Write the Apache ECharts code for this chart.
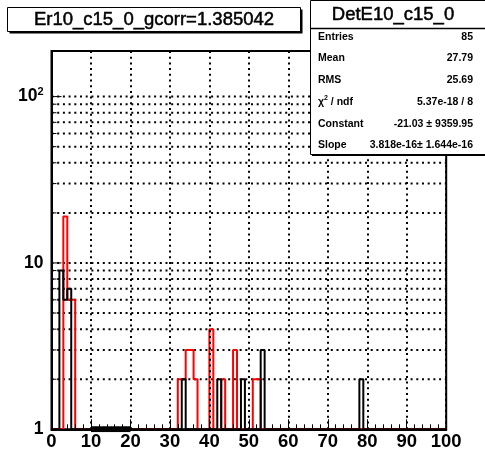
<!DOCTYPE html>
<html>
<head>
<meta charset="utf-8">
<script src="https://cdn.jsdelivr.net/npm/echarts@6/dist/echarts.min.js"></script>
<style>
    html, body { margin: 0; padding: 0; background: #fff; }
    #main { width: 485px; height: 455px; }
</style>
</head>
<body>
<div id="main"></div>
<script>
// histogram binning (width 1 over 0..100) and axis range
var xMin = 0, xMax = 100, binWidth = 1;
var yMin = 1, yMax = 188;

// black histogram (DetE10_c15_0), non-empty bins: low edge -> content
var blackBins = [2, 3, 4, 33, 42, 48, 53, 78];
var blackValues = [9, 6, 7, 2, 2, 2, 3, 2];

// red histogram, non-empty bins
var redBins = [3, 4, 5, 32, 33, 34, 35, 36, 40, 43, 46, 51, 52];
var redValues = [19, 6, 6, 2, 2, 3, 3, 2, 4, 2, 3, 2, 2];

// pol1 fit over 10..20 (negative, so clipped to the bottom of the frame)
var fitX = [10, 20];
var fitY = [-21.03, -21.03];

// log grid lines (ROOT draws one at every tick)
var yGridValues = [2, 3, 4, 5, 6, 7, 8, 9, 10, 20, 30, 40, 50, 60, 70, 80, 90, 100];
var yMajor = [10, 100];

var titleText = 'Er10_c15_0_gcorr=1.385042';
var statsTitle = 'DetE10_c15_0';
var statLabels = ['Entries', 'Mean', 'RMS', 'chi2', 'Constant', 'Slope'];
var statValues = ['85', '27.79', '25.69', '5.37e-18 / 8', '-21.03 \u00b1 9359.95', '3.818e-16\u00b1 1.644e-16'];

var FONT = '"Liberation Sans", Arial, Helvetica, sans-serif';

// turn sparse bins into a step outline, empty bins sit on the frame bottom
function histOutline(bins, values) {
    var counts = [];
    var n = Math.round((xMax - xMin) / binWidth);
    for (var i = 0; i < n; i++) counts.push(0);
    for (var j = 0; j < bins.length; j++) counts[Math.round((bins[j] - xMin) / binWidth)] = values[j];
    var pts = [];
    for (var k = 0; k < n; k++) {
        var v = counts[k] > 0 ? counts[k] : yMin;
        pts.push([xMin + k * binWidth, v], [xMin + (k + 1) * binWidth, v]);
    }
    return pts;
}

var chart = echarts.init(document.getElementById('main'));

// stats box texts
var statsChildren = [];
var rowY = [37, 58.5, 80, 102, 124, 145.5];
for (var r = 0; r < statLabels.length; r++) {
    var lab = statLabels[r];
    statsChildren.push({
        type: 'text', x: 318, y: rowY[r], z: 101,
        style: lab === 'chi2' ? {
            text: '{c|\u03c7}{s|2}{c| / ndf}',
            rich: {
                c: {fontSize: 10.5, fontWeight: 'bold', fontFamily: FONT, fill: '#000', lineHeight: 14},
                s: {fontSize: 7, fontWeight: 'bold', fontFamily: FONT, fill: '#000', verticalAlign: 'top', lineHeight: 8}
            },
            verticalAlign: 'middle'
        } : {
            text: lab, fontSize: 10.5, fontWeight: 'bold', fontFamily: FONT, fill: '#000', verticalAlign: 'middle'
        }
    });
    statsChildren.push({
        type: 'text', x: 473, y: rowY[r], z: 101,
        style: {text: statValues[r], fontSize: 10.5, fontWeight: 'bold', fontFamily: FONT, fill: '#000',
            align: 'right', verticalAlign: 'middle'}
    });
}

var option = {
    animation: false,
    backgroundColor: '#fff',
    grid: {
        left: 51.5,
        right: 38.8,
        top: 51,
        bottom: 25.7,
        show: true,
        borderColor: '#000',
        borderWidth: 2,
        backgroundColor: 'transparent'
    },
    xAxis: {
        type: 'value',
        min: xMin,
        max: xMax,
        interval: 10,
        z: 5,
        axisLine: {show: true, lineStyle: {color: '#000', width: 2}},
        axisTick: {show: true, inside: true, length: 10, lineStyle: {color: '#000', width: 1}},
        minorTick: {show: true, splitNumber: 5, length: 5, lineStyle: {color: '#000', width: 1}},
        splitLine: {show: true, lineStyle: {color: '#000', width: 2, type: [2, 3.7]}},
        axisLabel: {color: '#000', fontSize: 18.5, fontWeight: 'bold', fontFamily: FONT, margin: 3}
    },
    yAxis: {
        type: 'log',
        logBase: 10,
        min: yMin,
        max: yMax,
        z: 5,
        axisLine: {show: true, lineStyle: {color: '#000', width: 2}},
        axisTick: {show: false},
        splitLine: {show: false},
        axisLabel: {
            color: '#000', fontSize: 17, fontWeight: 'bold', fontFamily: FONT, margin: 8,
            formatter: function (v) {
                if (Math.abs(v - 1) < 1e-9) return '{b|1}';
                if (Math.abs(v - 10) < 1e-9) return '{b|10}';
                if (Math.abs(v - 100) < 1e-6) return '{b|10}{s|2}';
                return '';
            },
            rich: {
                b: {fontSize: 17.5, fontWeight: 'bold', fontFamily: FONT, color: '#000', lineHeight: 20},
                s: {fontSize: 11, fontWeight: 'bold', fontFamily: FONT, color: '#000', verticalAlign: 'top', lineHeight: 11}
            }
        }
    },
    series: [
        {
            // dotted log grid + left ticks
            name: 'grid',
            type: 'custom',
            silent: true,
            z: 1,
            data: yGridValues.map(function (v) { return [xMin, v]; }),
            renderItem: function (params, api) {
                var v = api.value(1);
                var p0 = api.coord([xMin, v]);
                var p1 = api.coord([xMax, v]);
                var tick = yMajor.indexOf(v) >= 0 ? 10 : 5;
                return {
                    type: 'group',
                    children: [
                        {type: 'line', shape: {x1: p0[0], y1: p0[1], x2: p1[0], y2: p1[1]},
                            style: {stroke: '#000', lineWidth: 2, lineDash: [2, 3.7]}},
                        {type: 'line', shape: {x1: p0[0], y1: p0[1], x2: p0[0] + tick, y2: p0[1]},
                            style: {stroke: '#000', lineWidth: 1}}
                    ]
                };
            }
        },
        {
            name: 'red',
            type: 'line',
            z: 2,
            symbol: 'none',
            silent: true,
            lineStyle: {color: '#ff0000', width: 2},
            data: histOutline(redBins, redValues)
        },
        {
            name: 'DetE10_c15_0',
            type: 'line',
            z: 3,
            symbol: 'none',
            silent: true,
            lineStyle: {color: '#000', width: 2},
            data: histOutline(blackBins, blackValues)
        },
        {
            name: 'fit',
            type: 'line',
            z: 6,
            symbol: 'none',
            silent: true,
            lineStyle: {color: '#000', width: 6},
            data: fitX.map(function (x, i) { return [x, Math.max(fitY[i], yMin)]; })
        }
    ],
    graphic: [
        // title box with shadow
        {type: 'rect', z: 100, shape: {x: 9.5, y: 9.5, width: 293, height: 24}, style: {fill: '#000'}},
        {type: 'rect', z: 100, shape: {x: 7.5, y: 7.5, width: 293, height: 24}, style: {fill: '#fff', stroke: '#000', lineWidth: 1}},
        {type: 'text', z: 101, x: 154, y: 19.5,
            style: {text: titleText, fontSize: 18.5, fontFamily: FONT, fill: '#000', align: 'center', verticalAlign: 'middle',
                stroke: '#000', lineWidth: 0.5}},
        // stats box
        {type: 'rect', z: 100, shape: {x: 312, y: 2, width: 175, height: 154}, style: {fill: '#000'}},
        {type: 'rect', z: 100, shape: {x: 310.5, y: 0.5, width: 175, height: 154}, style: {fill: '#fff', stroke: '#000', lineWidth: 1}},
        {type: 'line', z: 101, shape: {x1: 310.5, y1: 28.5, x2: 485, y2: 28.5}, style: {stroke: '#000', lineWidth: 1.5}},
        {type: 'text', z: 101, x: 393, y: 15,
            style: {text: statsTitle, fontSize: 18.5, fontFamily: FONT, fill: '#000', align: 'center', verticalAlign: 'middle',
                stroke: '#000', lineWidth: 0.5}}
    ].concat(statsChildren)
};

chart.setOption(option);
</script>
</body>
</html>
